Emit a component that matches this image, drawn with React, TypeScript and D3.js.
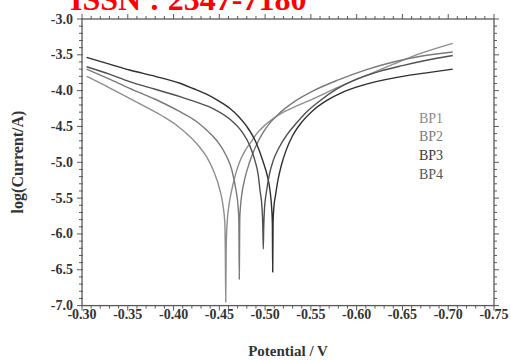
import React from "react";
import * as d3 from "d3";

// Tick labels
const xTickLabels = ["-0.30", "-0.35", "-0.40", "-0.45", "-0.50", "-0.55", "-0.60", "-0.65", "-0.70", "-0.75"];
const yTickLabels = ["-3.0", "-3.5", "-4.0", "-4.5", "-5.0", "-5.5", "-6.0", "-6.5", "-7.0"];
const seriesNames = ["BP1", "BP2", "BP3", "BP4"];

// BP1 potentials (V) / log(Current/A)
const bp1E = [-0.305, -0.33, -0.352, -0.37, -0.389, -0.405, -0.418, -0.428, -0.436, -0.443, -0.4507, -0.454, -0.456, -0.4565, -0.457, -0.4575, -0.4585, -0.4605, -0.4635, -0.467, -0.472, -0.478, -0.485, -0.4908, -0.5, -0.51, -0.52, -0.535, -0.553, -0.58, -0.61, -0.64, -0.67, -0.705];
const bp1L = [-3.8, -3.96, -4.107, -4.23, -4.364, -4.5, -4.643, -4.78, -4.922, -5.1, -5.39, -5.6, -5.85, -6.2, -6.95, -6.2, -5.85, -5.6, -5.39, -5.2, -5.0, -4.84, -4.71, -4.6, -4.48, -4.38, -4.3, -4.21, -4.11, -3.95, -3.79, -3.63, -3.48, -3.34];

// BP2
const bp2E = [-0.305, -0.33, -0.352, -0.38, -0.407, -0.425, -0.436, -0.448, -0.458, -0.4635, -0.4682, -0.4705, -0.4713, -0.4718, -0.4723, -0.4731, -0.4745, -0.478, -0.483, -0.489, -0.497, -0.506, -0.516, -0.53, -0.553, -0.58, -0.61, -0.64, -0.67, -0.705];
const bp2L = [-3.7, -3.84, -3.967, -4.12, -4.294, -4.43, -4.549, -4.71, -4.92, -5.1, -5.39, -5.62, -5.8, -6.63, -5.8, -5.62, -5.45, -5.22, -5.0, -4.8, -4.6, -4.44, -4.31, -4.17, -4.0, -3.85, -3.71, -3.6, -3.52, -3.46];

// BP3
const bp3E = [-0.305, -0.33, -0.352, -0.38, -0.407, -0.4213, -0.436, -0.45, -0.4616, -0.471, -0.48, -0.49, -0.498, -0.503, -0.5053, -0.5072, -0.5079, -0.5083, -0.5087, -0.5094, -0.5115, -0.514, -0.518, -0.523, -0.53, -0.54, -0.552, -0.567, -0.585, -0.605, -0.63, -0.655, -0.68, -0.705];
const bp3L = [-3.535, -3.63, -3.712, -3.8, -3.897, -3.97, -4.05, -4.15, -4.25, -4.36, -4.5, -4.72, -5.0, -5.22, -5.39, -5.65, -5.85, -6.53, -5.85, -5.65, -5.45, -5.25, -5.03, -4.83, -4.63, -4.44, -4.28, -4.14, -4.02, -3.93, -3.85, -3.79, -3.745, -3.7];

// BP4
const bp4E = [-0.305, -0.33, -0.352, -0.38, -0.407, -0.425, -0.443, -0.4616, -0.475, -0.483, -0.489, -0.4925, -0.4944, -0.4967, -0.4975, -0.498, -0.4985, -0.4993, -0.5017, -0.505, -0.509, -0.515, -0.523, -0.533, -0.545, -0.56, -0.578, -0.6, -0.625, -0.65, -0.675, -0.705];
const bp4L = [-3.666, -3.77, -3.875, -3.98, -4.084, -4.16, -4.25, -4.4, -4.58, -4.76, -4.98, -5.18, -5.39, -5.65, -5.9, -6.21, -5.9, -5.65, -5.39, -5.15, -4.97, -4.8, -4.63, -4.47, -4.3, -4.14, -3.98, -3.84, -3.73, -3.65, -3.58, -3.51];

const seriesE = [bp1E, bp2E, bp3E, bp4E];
const seriesL = [bp1L, bp2L, bp3L, bp4L];
const lineColors = ["#8e8e8e", "#7a7a7a", "#2f2f2f", "#505050"];
const legendColors = ["#8a8a8a", "#7a7a7a", "#3a3a3a", "#555555"];

export default function App() {
  const W = 511, H = 360;
  const x = d3.scaleLinear().domain([-0.3, -0.75]).range([82, 494]);
  const y = d3.scaleLinear().domain([-7, -3]).range([305.6, 19]);
  const serif = "'Liberation Serif', 'Times New Roman', serif";
  const axisColor = "#5a5a5a";

  const xMinor = d3.range(0, 46).map((i) => -0.3 - i * 0.01);
  const yMinor = d3.range(0, 41).map((i) => -3 - i * 0.1);
  const xMajor = xTickLabels.map((t) => +t);
  const yMajor = yTickLabels.map((t) => +t);
  const isMajorX = (v: number) => xMajor.some((m) => Math.abs(m - v) < 1e-6);
  const isMajorY = (v: number) => yMajor.some((m) => Math.abs(m - v) < 1e-6);

  const line = d3
    .line<[number, number]>()
    .x((d) => x(d[0]))
    .y((d) => y(d[1]))
    .curve(d3.curveMonotoneX);

  const [x0, x1] = x.range();
  const [yb, yt] = y.range();

  return (
    <svg width={W} height={H} style={{ position: "absolute", left: 0, top: 0, background: "#fff" }}>
      <rect x={0} y={0} width={W} height={H} fill="#fff" />
      <text x={70} y={10} fill="#ff0000" fontFamily={serif} fontWeight="bold" fontSize={32}>
        ISSN : 2347-7180
      </text>

      {seriesE.map((es, i) => {
        const pts = es.map((e, j) => [e, seriesL[i][j]] as [number, number]);
        return <path key={i} d={line(pts) || ""} fill="none" stroke={lineColors[i]} strokeWidth={1.4} />;
      })}

      <rect x={x0} y={yt} width={x1 - x0} height={yb - yt} fill="none" stroke={axisColor} strokeWidth={1.3} />

      {xMinor.map((v, i) => {
        const len = isMajorX(v) ? 5 : 3;
        return (
          <g key={"xt" + i} stroke={axisColor} strokeWidth={1}>
            <line x1={x(v)} x2={x(v)} y1={yb} y2={yb + len} />
            <line x1={x(v)} x2={x(v)} y1={yt} y2={yt - len} />
          </g>
        );
      })}
      {yMinor.map((v, i) => {
        const len = isMajorY(v) ? 5 : 3;
        return (
          <g key={"yt" + i} stroke={axisColor} strokeWidth={1}>
            <line x1={x0 - len} x2={x0 + 1} y1={y(v)} y2={y(v)} />
            <line x1={x1} x2={x1 + len} y1={y(v)} y2={y(v)} />
          </g>
        );
      })}

      {xTickLabels.map((t, i) => (
        <text key={"xl" + i} x={x(+t)} y={319} textAnchor="middle" fontFamily={serif} fontWeight="bold" fontSize={14} fill="#333">
          {t}
        </text>
      ))}
      {yTickLabels.map((t, i) => (
        <text key={"yl" + i} x={73} y={y(+t) + 4.5} textAnchor="end" fontFamily={serif} fontWeight="bold" fontSize={14} fill="#333">
          {t}
        </text>
      ))}

      <text x={288} y={356} textAnchor="middle" fontFamily={serif} fontWeight="bold" fontSize={15} fill="#333">
        Potential / V
      </text>
      <text transform={`translate(23,162) rotate(-90)`} textAnchor="middle" fontFamily={serif} fontWeight="bold" fontSize={16} fill="#333">
        log(Current/A)
      </text>

      {seriesNames.map((n, i) => (
        <text key={n} x={419} y={122.5 + i * 18.8} fontFamily={serif} fontSize={14} fill={legendColors[i]}>
          {n}
        </text>
      ))}
    </svg>
  );
}
